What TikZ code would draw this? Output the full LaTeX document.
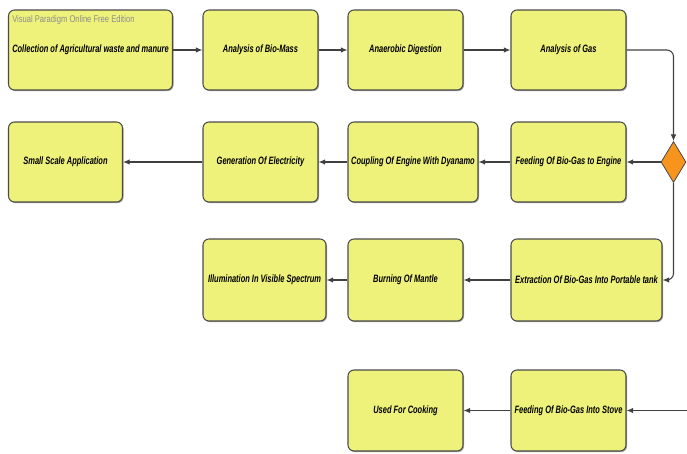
\documentclass[tikz,border=0pt]{standalone}
\usepackage{fontspec}
\setmainfont{Liberation Sans}
\newfontfamily\narrowfont[FakeStretch=0.7]{Liberation Sans}
\newfontfamily\wmfont[FakeStretch=0.78]{Liberation Sans}
\usetikzlibrary{shapes.geometric,shadows,arrows.meta}
\definecolor{boxfill}{HTML}{EEF27A}
\definecolor{boxline}{HTML}{4A4A4A}
\definecolor{diafill}{HTML}{F7941D}
\tikzset{
  procbox/.style={draw=boxline, fill=boxfill, line width=0.8pt, rounded corners=4.5pt,
    inner sep=0pt, align=center,
    font=\narrowfont\fontsize{8}{9.5}\selectfont\bfseries\itshape,
    drop shadow={shadow xshift=0.8pt, shadow yshift=-0.9pt, fill=black, opacity=0.35}},
  decision/.style={diamond, draw=boxline, fill=diafill, line width=0.6pt, inner sep=0pt},
  flow/.style={draw=black!75, line width=0.8pt, -{Latex[length=5pt,width=4.2pt]}},
}
\begin{document}
\begin{tikzpicture}[x=0.75pt,y=-0.75pt]
\useasboundingbox (0,0) rectangle (687,454);
% row 1
\node[procbox, minimum width=164*0.75pt, minimum height=80*0.75pt] (b1) at (90.5,50) {Collection of Agricultural waste and manure};
\node[anchor=west, inner sep=0pt, text=black!45, font=\wmfont\fontsize{7.3}{8}\selectfont] (wm) at (12,20) {Visual Paradigm Online Free Edition};
\node[procbox, minimum width=115*0.75pt, minimum height=80*0.75pt] (b2) at (260.5,50) {Analysis of Bio-Mass};
\node[procbox, minimum width=115*0.75pt, minimum height=80*0.75pt] (b3) at (405.5,50) {Anaerobic Digestion};
\node[procbox, minimum width=115*0.75pt, minimum height=80*0.75pt] (b4) at (568.5,50) {Analysis of Gas};
% row 2
\node[procbox, minimum width=114*0.75pt, minimum height=80*0.75pt] (s1) at (65.5,162) {Small Scale Application};
\node[procbox, minimum width=115*0.75pt, minimum height=80*0.75pt] (s2) at (260.5,162) {Generation Of Electricity};
\node[procbox, minimum width=130*0.75pt, minimum height=80*0.75pt] (s3) at (413,162) {Coupling Of Engine With Dyanamo};
\node[procbox, minimum width=115*0.75pt, minimum height=80*0.75pt] (s4) at (568.5,162) {Feeding Of Bio-Gas to Engine};
\node[decision, minimum width=25*0.75pt, minimum height=41*0.75pt] (d) at (673.5,162) {};
% row 3
\node[procbox, minimum width=123*0.75pt, minimum height=82*0.75pt] (r1) at (264.5,280) {Illumination In Visible Spectrum};
\node[procbox, minimum width=115*0.75pt, minimum height=82*0.75pt] (r2) at (405.5,280) {Burning Of Mantle};
\node[procbox, minimum width=151*0.75pt, minimum height=82*0.75pt] (r3) at (586.5,280) {Extraction Of Bio-Gas Into Portable tank};
% row 4
\node[procbox, minimum width=115*0.75pt, minimum height=81*0.75pt] (c1) at (405.5,410.5) {Used For Cooking};
\node[procbox, minimum width=115*0.75pt, minimum height=81*0.75pt] (c2) at (568.5,410.5) {Feeding Of Bio-Gas Into Stove};
\coordinate (cin) at (687,410.5);
% connectors
\draw[flow] (b1) -- (b2);
\draw[flow] (b2) -- (b3);
\draw[flow] (b3) -- (b4);
\draw[flow, rounded corners=5pt] (b4.east) -| (d.north);
\draw[flow] (d.west) -- (s4.east);
\draw[flow] (s4) -- (s3);
\draw[flow] (s3) -- (s2);
\draw[flow] (s2) -- (s1);
\draw[flow, rounded corners=5pt] (d.south) |- (r3.east);
\draw[flow] (r3) -- (r2);
\draw[flow] (r2) -- (r1);
\draw[flow] (cin) -- (c2);
\draw[flow] (c2) -- (c1);
\end{tikzpicture}
\end{document}
